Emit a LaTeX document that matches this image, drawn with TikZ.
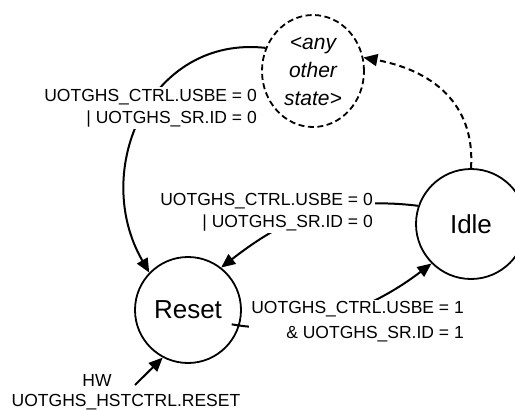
\documentclass[tikz,border=0pt]{standalone}
\usepackage{fontspec}
\setmainfont{Liberation Sans}
\usetikzlibrary{arrows.meta,shapes.geometric}
\begin{document}
\begin{tikzpicture}[x=1pt,y=-1pt,
  fsmstate/.style={circle,draw,line width=1.8pt,minimum size=#1,inner sep=0pt,font=\fontsize{26}{30}\selectfont},
  conn/.style={line width=2pt,-{Triangle[length=14pt,width=12pt]}},
  lbl/.style={fill=white,inner sep=2pt,align=right,font=\fontsize{17.5}{22}\selectfont},
  plain/.style={inner sep=0pt,font=\fontsize{17.5}{22}\selectfont},
]
\useasboundingbox (0,0) rectangle (515,410);
\clip (0,0) rectangle (515,410);
\node[fsmstate=106pt] (reset) at (188,310) {Reset};
\node[fsmstate=110pt] (idle) at (471,224) {Idle};
\node[ellipse,draw,line width=1.8pt,dash pattern=on 6pt off 3.5pt,minimum width=102pt,minimum height=112pt,inner sep=0pt] (other) at (313,71) {};
\node[align=center,inner sep=0pt,font=\fontsize{21}{28}\selectfont\itshape] (othertext) at (other.center) {<any\\other\\state>};

\draw[conn] (other.154) .. controls (150,35) and (90,170) .. (reset.136);
\draw[conn] (idle.161) .. controls (330,195) and (280,222) .. (reset.52);
\draw[conn,shorten <=-8pt] (reset.-17) .. controls (290,335) and (360,318) .. (idle.225);
\draw[conn,dash pattern=on 6pt off 4pt] (idle.90) .. controls (475,110) and (440,72) .. (other.15);
\coordinate (hwstart) at (135,385);
\draw[conn] (hwstart) -- (reset.242);

\node[lbl,anchor=east] (l1) at (259,108) {UOTGHS\_CTRL.USBE = 0\\| UOTGHS\_SR.ID = 0};
\node[lbl,anchor=east] (l2) at (375,212) {UOTGHS\_CTRL.USBE = 0\\| UOTGHS\_SR.ID = 0};
\node[lbl,anchor=east] (l3) at (466,322) {UOTGHS\_CTRL.USBE = 1\\[3pt]\& UOTGHS\_SR.ID = 1};
\node[plain] (hw) at (97,380) {HW};
\node[plain] (hwreset) at (126,402) {UOTGHS\_HSTCTRL.RESET};
\end{tikzpicture}
\end{document}
